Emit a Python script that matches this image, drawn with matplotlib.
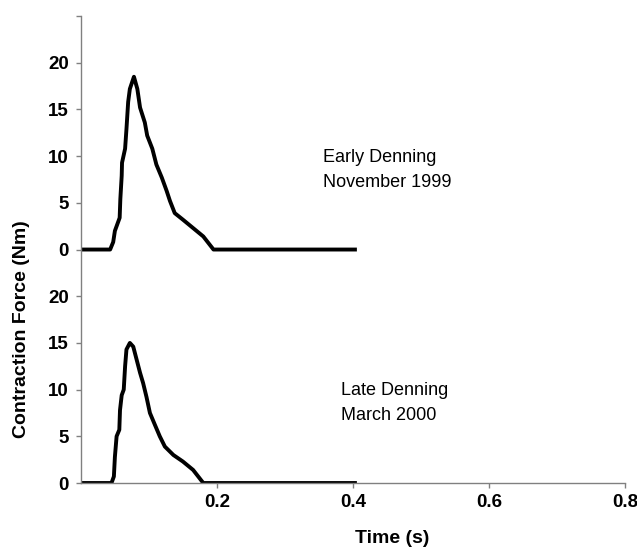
import matplotlib.pyplot as plt

# Early denning, November 1999 (force in Nm vs time in s)
time_early = [0.0, 0.043, 0.0475, 0.050, 0.057, 0.058, 0.060, 0.0605, 0.065, 0.067,
              0.0695, 0.072, 0.078, 0.083, 0.087, 0.094, 0.0975, 0.105, 0.111,
              0.119, 0.126, 0.131, 0.138, 0.150, 0.165, 0.180, 0.195, 0.403]
force_early = [0.0, 0.0, 0.8, 2.0, 3.4, 5.4, 7.9, 9.3, 10.8, 12.9,
               15.8, 17.2, 18.5, 17.2, 15.2, 13.6, 12.2, 10.8, 9.1,
               7.7, 6.3, 5.2, 3.9, 3.2, 2.3, 1.4, 0.0, 0.0]

# Late denning, March 2000
time_late = [0.0, 0.045, 0.0485, 0.050, 0.0525, 0.0565, 0.0575, 0.060, 0.063, 0.065,
             0.067, 0.072, 0.077, 0.082, 0.087, 0.0915, 0.0965, 0.1015, 0.109,
             0.116, 0.1235, 0.136, 0.150, 0.165, 0.180, 0.403]
force_late = [0.0, 0.0, 0.7, 2.8, 5.0, 5.7, 7.8, 9.4, 10.0, 12.5,
              14.3, 15.0, 14.6, 13.2, 11.8, 10.7, 9.2, 7.5, 6.2,
              5.0, 3.9, 3.0, 2.3, 1.4, 0.0, 0.0]

ytick_values = [0, 5, 10, 15, 20, 25, 30, 35, 40, 45, 50]
ytick_labels = ["0", "5", "10", "15", "20", "0", "5", "10", "15", "20", ""]
xtick_values = [0.2, 0.4, 0.6, 0.8]
xtick_labels = ["0.2", "0.4", "0.6", "0.8"]

panel_offset = 25  # top trace is stacked above the bottom one

plt.rcParams['font.family'] = ['Liberation Sans', 'DejaVu Sans']

fig = plt.figure(figsize=(6.37, 5.5), dpi=100)
ax = fig.add_axes([0.127, 0.1218, 0.854, 0.849])

ax.plot(time_late, force_late, color='black', lw=2.8, solid_joinstyle='round')
ax.plot(time_early, [f + panel_offset for f in force_early], color='black', lw=2.8,
        solid_joinstyle='round')

ax.set_xlim(0, 0.8)
ax.set_ylim(0, 50)
ax.set_xticks(xtick_values)
ax.set_xticklabels(xtick_labels, fontsize=13.5, fontweight='bold')
ax.set_yticks(ytick_values)
ax.set_yticklabels(ytick_labels, fontsize=13.5, fontweight='bold')

for side in ['top', 'right']:
    ax.spines[side].set_visible(False)
for side in ['left', 'bottom']:
    ax.spines[side].set_color('#808080')
    ax.spines[side].set_linewidth(1.0)
ax.tick_params(axis='both', direction='out', length=3.8, color='#808080', width=1.0)
ax.tick_params(axis='y', pad=5)
ax.tick_params(axis='x', pad=4)

ax.set_xlabel('Time (s)', fontsize=14, fontweight='bold')
ax.xaxis.set_label_coords(0.572, -0.101)
ax.set_ylabel('Contraction Force (Nm)', fontsize=14, fontweight='bold')
ax.yaxis.set_label_coords(-0.094, 0.33)

ax.text(0.356, 33.5, 'Early Denning\nNovember 1999', fontsize=13, va='center',
        ha='left', linespacing=1.6)
ax.text(0.382, 8.6, 'Late Denning\nMarch 2000', fontsize=13, va='center',
        ha='left', linespacing=1.6)

fig.savefig('out.png', dpi=100)
